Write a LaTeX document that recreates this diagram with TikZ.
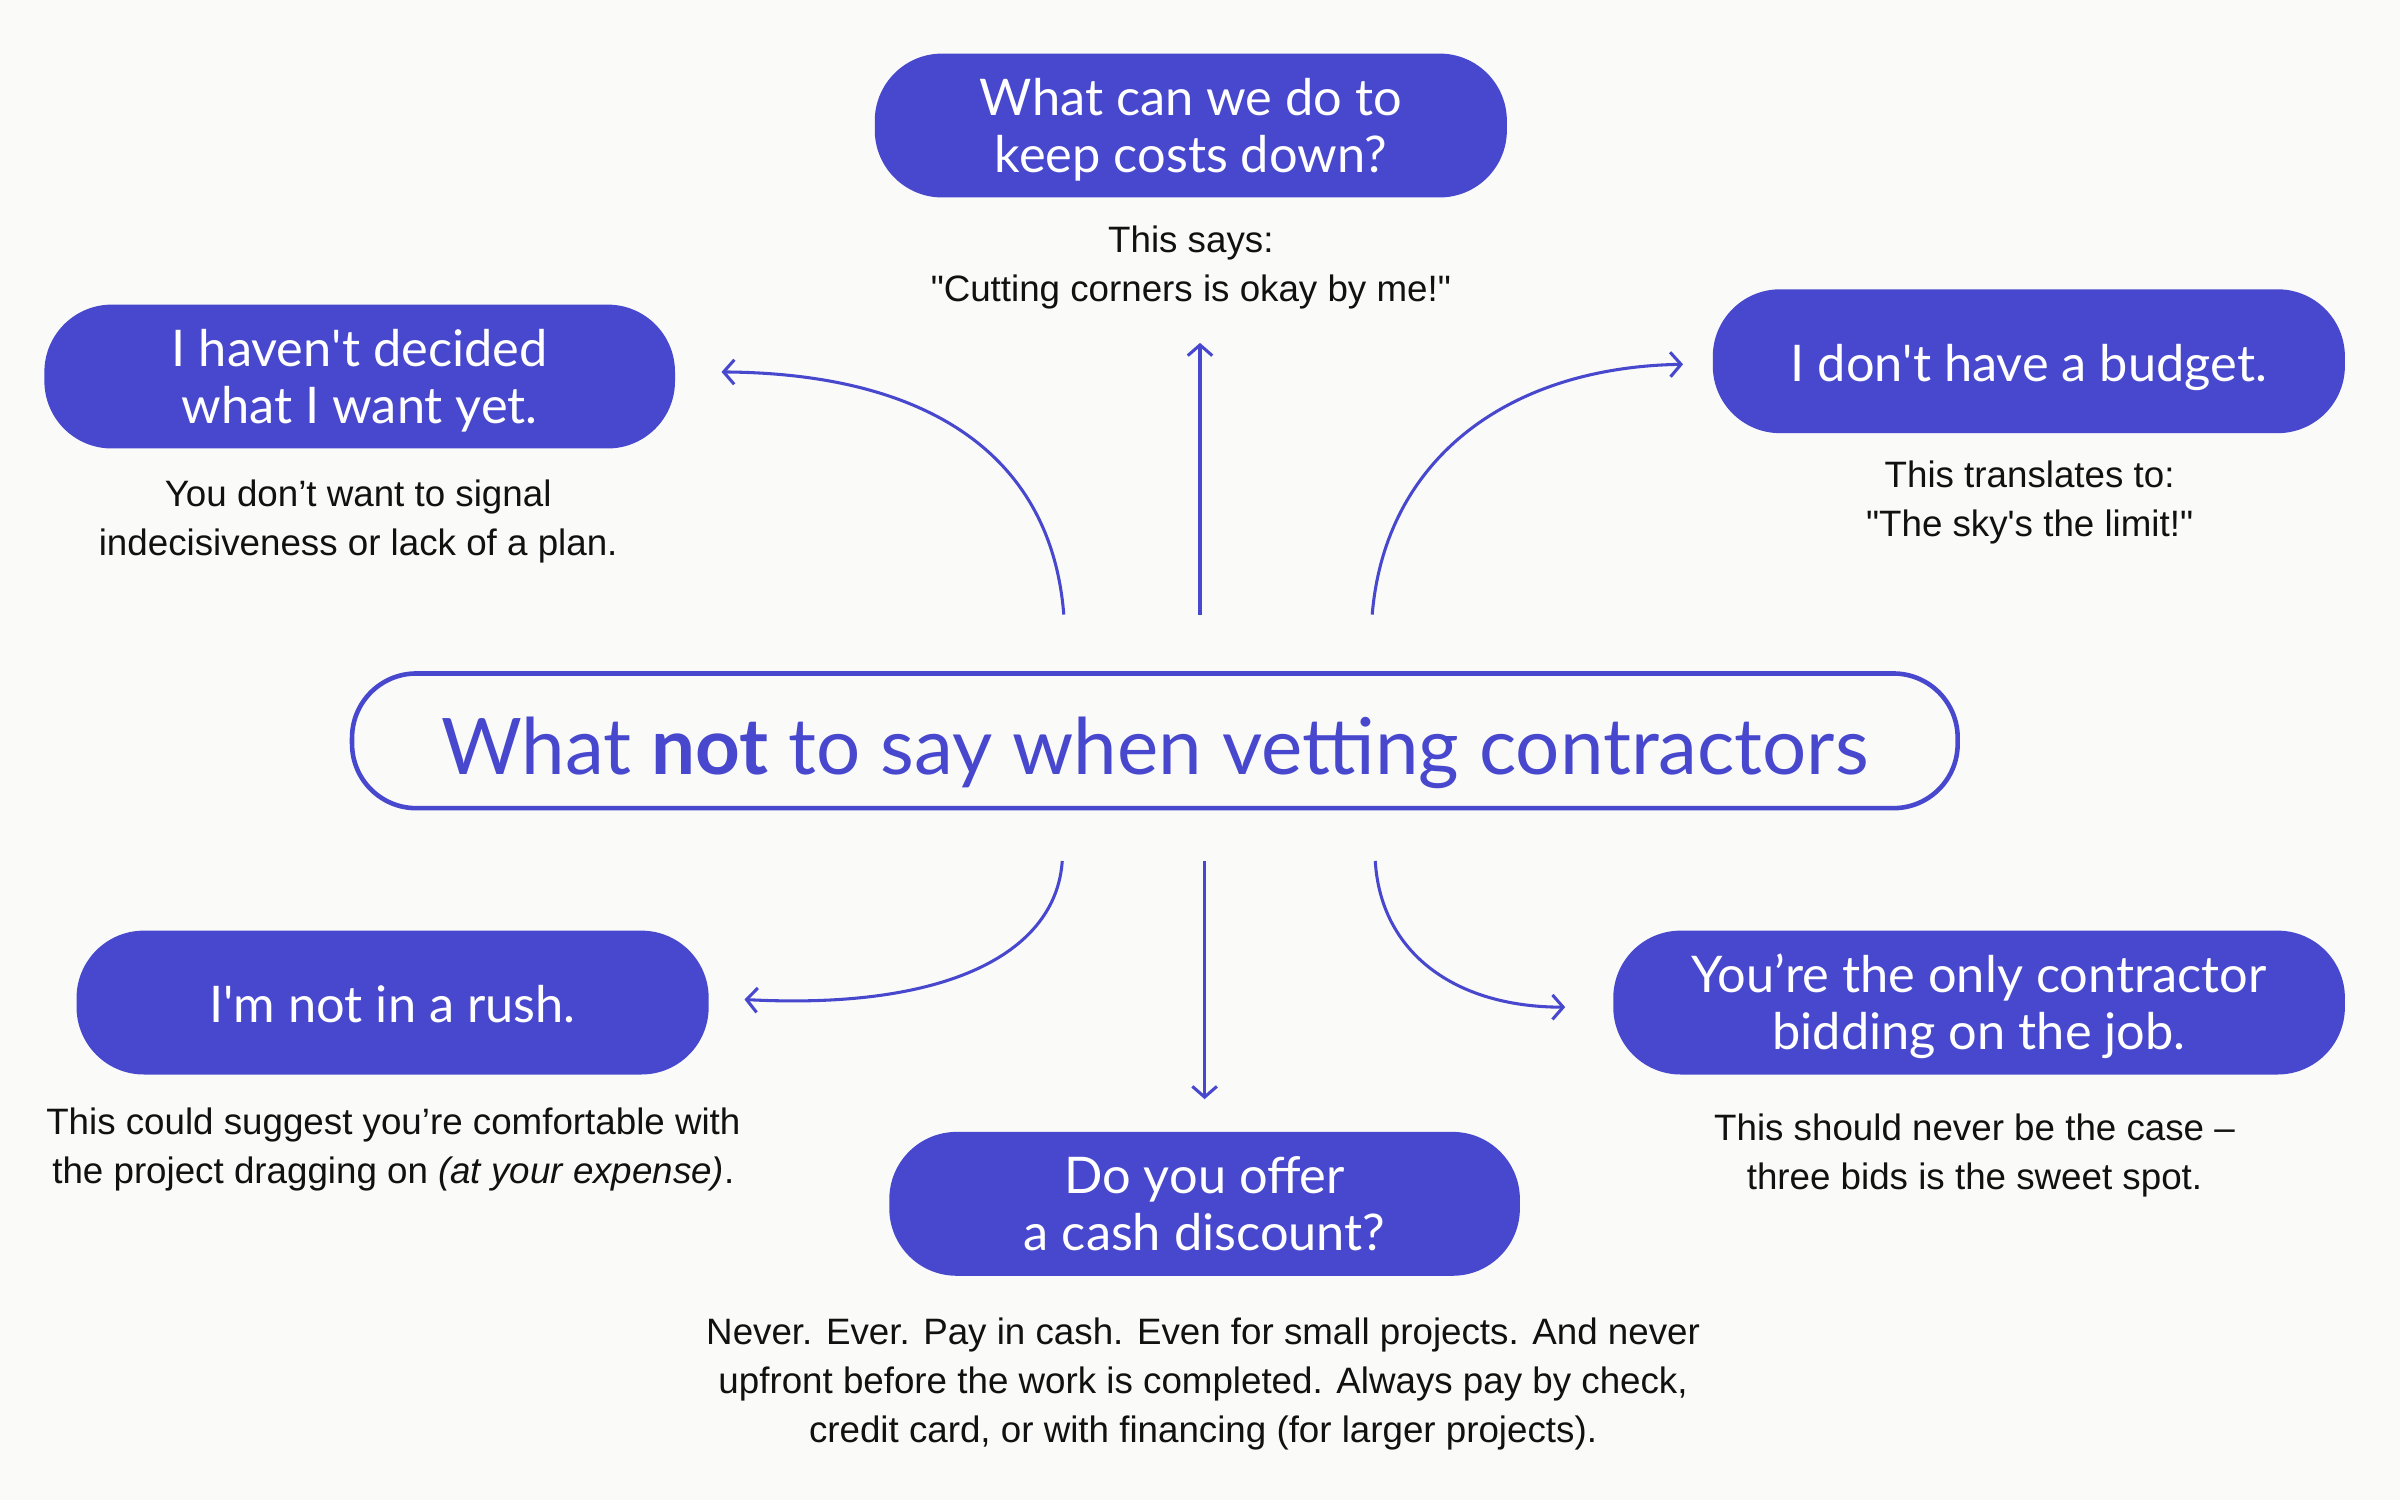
\documentclass[tikz,border=0pt]{standalone}
\usepackage{fontspec}
\setmainfont{Liberation Sans}
\newfontfamily\bubblefont{Lato}
\usetikzlibrary{positioning,calc,arrows.meta}
\definecolor{iris}{RGB}{72,72,206}
\definecolor{paper}{RGB}{250,250,248}
\definecolor{ink}{RGB}{17,17,17}

\begin{document}
\begin{tikzpicture}[x=0.5pt,y=-0.5pt,
		bubble/.style={fill=iris,
			text=white,
			rounded corners=22pt,
			minimum height=47pt,
			inner sep=0pt,
			text height=30.5pt,
			text depth=0pt,
			align=center,
			font=\bubblefont\fontsize{16.5}{18.5}\selectfont},
		oneline/.style={text height=13pt,
			text depth=0pt},
		note/.style={text=ink,
			inner sep=0pt,
			align=center,
			font=\fontsize{12}{16}\selectfont},
		link/.style={draw=iris,
			line width=1pt,
			-{Straight Barb[length=3.5pt,width=8pt]}}
	]
		% page
		\fill[paper] (0,0) rectangle (1568,980);

		% title
		\node[draw=iris,
			line width=1.5pt,
			rounded corners=21pt,
			minimum width=524.5pt,
			minimum height=44pt,
			text height=22pt,
			text depth=0pt,
			text=iris,
			font=\bubblefont\fontsize{25.5}{30}\selectfont
		] (title) at (754.5,484) {What \textbf{not} to say when vetting contractors};

		% top row
		\node[bubble,
			minimum width=206.5pt
		] (costs) at (778,82) {What can we do to\\keep costs down?};
		\node[note] (costsnote) at (778,175) {This says:\\\textquotedbl Cutting corners is okay by me!\textquotedbl};

		\node[bubble,
			minimum width=206pt
		] (undecided) at (235,246) {I haven\textquotesingle t decided\\what I want yet.};
		\node[note] (undecidednote) at (234,341) {You don’t want to signal\\indecisiveness or lack of a plan.};

		\node[bubble,
			oneline,
			minimum width=206.5pt
		] (budget) at (1325.5,236) {I don\textquotesingle t have a budget.};
		\node[note] (budgetnote) at (1326,328) {This translates to:\\\textquotedbl The sky\textquotesingle s the limit!\textquotedbl};

		% bottom row
		\node[bubble,
			oneline,
			minimum width=206.5pt
		] (rush) at (256.5,655) {I\textquotesingle m not in a rush.};
		\node[note] (rushnote) at (257,751) {This could suggest you’re comfortable with\\the project dragging on \textit{(at your expense)}.};

		\node[bubble,
			minimum width=206pt
		] (discount) at (787,786.5) {Do you offer\\a cash discount?};
		\node[note] (discountnote) at (786,904) {Never. Ever. Pay in cash. Even for small projects. And never\\upfront before the work is completed. Always pay by check,\\credit card, or with financing (for larger projects).};

		\node[bubble,
			minimum width=239pt
		] (only) at (1293,655) {You’re the only contractor\\bidding on the job.};
		\node[note] (onlynote) at (1290,755) {This should never be the case –\\three bids is the sweet spot.};

		% free ends of the arrows
		\coordinate (upL) at ($(title.north)+(-59.5,-37)$);
		\coordinate (upC) at ($(title.north)+(29.5,-37)$);
		\coordinate (upR) at ($(title.north)+(142,-37)$);
		\coordinate (dnL) at ($(title.south)+(-60.5,33)$);
		\coordinate (dnC) at ($(title.south)+(32.5,33)$);
		\coordinate (dnR) at ($(title.south)+(144,33)$);
		\coordinate (toUndecided) at ($(undecided.east)+(30,-3)$);
		\coordinate (toCosts) at (784,224);
		\coordinate (toBudget) at ($(budget.west)+(-19,2)$);
		\coordinate (toRush) at ($(rush.east)+(23,-2)$);
		\coordinate (toDiscount) at ($(discount.north)+(0,-21)$);
		\coordinate (toOnly) at ($(only.west)+(-31,3)$);

		\draw[link] (upL) .. controls (687,300) and (610,244) .. (toUndecided);
		\draw[link] (upC) -- (toCosts);
		\draw[link] (upR) .. controls (905,300) and (985,240) .. (toBudget);
		\draw[link] (dnL) .. controls (690,622) and (620,660) .. (toRush);
		\draw[link] (dnC) -- (toDiscount);
		\draw[link] (dnR) .. controls (902,622) and (950,658) .. (toOnly);

	\end{tikzpicture}
\end{document}
